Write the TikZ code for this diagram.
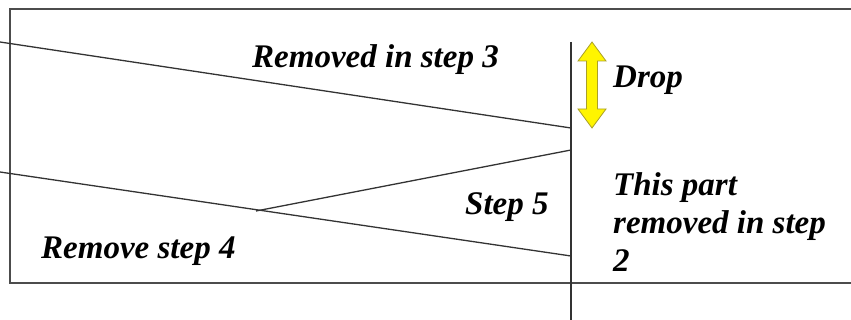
\documentclass[tikz,border=0pt]{standalone}
\usepackage{fontspec}
\setmainfont{Liberation Serif}
\usetikzlibrary{positioning}
\definecolor{dropyellow}{RGB}{255,245,0}
\definecolor{dropedge}{RGB}{170,160,40}
\tikzset{
  frame/.style={draw=black!70,line width=1.8pt},
  cut/.style={draw=black!80,line width=1.3pt},
  wall/.style={draw=black!80,line width=1.3pt},
  droparrow/.style={fill=dropyellow,draw=dropedge,line width=0.8pt},
  lbl/.style={font=\fontsize{33}{38}\selectfont\bfseries\itshape,inner sep=0pt,anchor=base west,align=left},
  every picture/.style={x=1pt,y=-1pt}
}
\begin{document}
\begin{tikzpicture}
  \useasboundingbox (0,0) rectangle (851,320);
  \draw[frame] (860,9) -- (10,9) -- (10,283) -- (860,283);
  % cut lines
  \coordinate (t0) at (0,42); \coordinate (t1) at (571,128);
  \coordinate (b0) at (0,172); \coordinate (b1) at (571,256);
  \coordinate (m0) at (256,211); \coordinate (m1) at (571,150);
  \coordinate (w0) at (571,42); \coordinate (w1) at (571,320);
  \draw[cut] (t0) -- (t1);
  \draw[cut] (b0) -- (b1);
  \draw[cut] (m0) -- (m1);
  \draw[wall] (w0) -- (w1);
  \draw[droparrow] (592,42) -- (606,61) -- (597.5,61) -- (597.5,109) -- (606,109) -- (592,128)
    -- (578,109) -- (586.5,109) -- (586.5,61) -- (578,61) -- cycle;
  \node[lbl] (step3) at (252,68) {Removed in step 3};
  \node[lbl] (drop) at (613,88) {Drop};
  \node[lbl] (step5) at (465,215) {Step 5};
  \node[lbl] (step4) at (41,259) {Remove step 4};
  \node[lbl] (step2) at (613,272) {This part\\removed in step\\2};
\end{tikzpicture}
\end{document}
